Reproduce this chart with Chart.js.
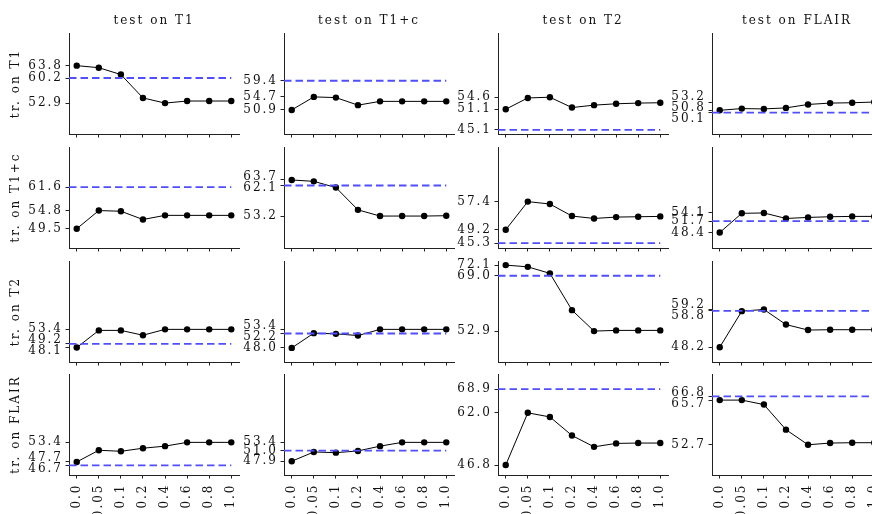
<!DOCTYPE html>
<html>
<head>
<meta charset="utf-8">
<script src="https://cdn.jsdelivr.net/npm/chart.js@4.4.1/dist/chart.umd.min.js"></script>
<style>
  html, body { margin: 0; padding: 0; background: #fff; }
  #fig { position: relative; width: 872px; height: 514px; overflow: hidden; }
  #fig canvas { position: absolute; }
</style>
</head>
<body>
<div id="fig"></div>
<script>
const xLabels = ['0.0', '0.05', '0.1', '0.2', '0.4', '0.6', '0.8', '1.0'];
const testNames = ['T1', 'T1+c', 'T2', 'FLAIR'];
const trainNames = ['T1', 'T1+c', 'T2', 'FLAIR'];

// one row per training modality, one array per test modality
const trT1 = [
    [63.8, 63.2, 61.2, 54.4, 52.9, 53.5, 53.5, 53.5],
    [50.9, 54.7, 54.5, 52.3, 53.4, 53.4, 53.4, 53.4],
    [51.1, 54.4, 54.6, 51.6, 52.3, 52.7, 52.9, 53.0],
    [50.8, 51.3, 51.2, 51.5, 52.5, 52.9, 53.0, 53.2]
];
const trT1c = [
    [49.5, 54.8, 54.6, 52.2, 53.4, 53.4, 53.4, 53.4],
    [63.7, 63.3, 61.5, 55.0, 53.2, 53.2, 53.2, 53.3],
    [49.2, 57.4, 56.7, 53.2, 52.5, 52.9, 53.0, 53.1],
    [48.4, 54.0, 54.1, 52.5, 52.8, 53.0, 53.1, 53.1]
];
const trT2 = [
    [48.1, 53.1, 53.1, 51.7, 53.4, 53.4, 53.4, 53.4],
    [48.0, 52.3, 52.1, 51.6, 53.4, 53.4, 53.4, 53.4],
    [72.1, 71.6, 69.7, 59.0, 52.9, 53.1, 53.1, 53.1],
    [48.2, 58.7, 59.2, 54.8, 53.2, 53.3, 53.3, 53.3]
];
const trFLAIR = [
    [47.7, 51.1, 50.8, 51.7, 52.3, 53.4, 53.4, 53.4],
    [47.9, 50.6, 50.4, 50.9, 52.3, 53.4, 53.4, 53.4],
    [46.8, 62.0, 60.8, 55.4, 52.1, 53.1, 53.2, 53.2],
    [65.7, 65.7, 64.4, 57.1, 52.7, 53.2, 53.3, 53.3]
];
const baselines = [
    [60.2, 59.4, 45.1, 50.1],
    [61.6, 62.1, 45.3, 51.7],
    [49.2, 52.2, 69.0, 58.8],
    [46.7, 51.0, 68.9, 66.8]
];
const series = [trT1, trT1c, trT2, trFLAIR];

const yMin = 43.9, yMax = 73.3;
const xMin = -0.35, xMax = 7.35;

// layout (px)
const colLeft = [69, 284, 498, 712];
const rowTop = [33, 147, 261, 374];
const areaW = 170, areaH = 101;
const padL = 72, padT = 36, padB = 40, padR = 12;

const textColor = '#111';
const axisColor = '#222';
const dashColor = '#4f4fff';
const font = { family: 'DejaVu Serif', size: 12, lineHeight: '14px' };

const spacing = {
    id: 'spacing',
    beforeDraw(chart) { chart.ctx.letterSpacing = '2px'; }
};

// y tick labels, pushed apart when they sit too close
const nudgeLabels = {
    id: 'nudgeLabels',
    afterDraw(chart, args, opts) {
        const scale = chart.scales.y;
        const items = opts.values.map(v => ({ v, p: scale.getPixelForValue(v) }))
            .sort((a, b) => a.p - b.p);
        const gap = 11, minGap = 8;
        let groups = items.map(it => ({ items: [it], c: it.p }));
        let merged = true;
        while (merged) {
            merged = false;
            for (let i = 0; i < groups.length - 1; i++) {
                const a = groups[i], b = groups[i + 1];
                const aEnd = a.c + (a.items.length - 1) / 2 * gap;
                const bStart = b.c - (b.items.length - 1) / 2 * gap;
                if (bStart - aEnd < minGap) {
                    const all = a.items.concat(b.items);
                    groups.splice(i, 2, { items: all, c: all.reduce((s, it) => s + it.p, 0) / all.length });
                    merged = true;
                    break;
                }
            }
        }
        const ctx = chart.ctx;
        ctx.save();
        ctx.font = font.size + 'px "' + font.family + '"';
        ctx.fillStyle = textColor;
        ctx.textAlign = 'right';
        ctx.textBaseline = 'middle';
        const x = chart.chartArea.left - 6;
        groups.forEach(g => {
            g.items.forEach((it, k) => {
                const y = g.c + (k - (g.items.length - 1) / 2) * gap;
                ctx.fillText(it.v.toFixed(1), x, y);
            });
        });
        ctx.restore();
    }
};

const fig = document.getElementById('fig');

function makePanel(r, c) {
    const canvas = document.createElement('canvas');
    canvas.width = padL + areaW + padR;
    canvas.height = padT + areaH + padB;
    canvas.style.left = (colLeft[c] - padL) + 'px';
    canvas.style.top = (rowTop[r] - padT) + 'px';
    fig.appendChild(canvas);

    const values = series[r][c];
    const base = baselines[r][c];
    const yTicks = [Math.max(...values), Math.min(...values), base];

    new Chart(canvas, {
        type: 'line',
        data: {
            datasets: [
                {
                    data: [{ x: xMin, y: base }, { x: xLabels.length - 1, y: base }],
                    borderColor: dashColor,
                    borderWidth: 1.8,
                    borderDash: [7.5, 4],
                    pointRadius: 0
                },
                {
                    data: values.map((v, i) => ({ x: i, y: v })),
                    borderColor: '#000',
                    borderWidth: 1,
                    pointRadius: 3.2,
                    pointBorderWidth: 0,
                    pointBackgroundColor: '#000'
                }
            ]
        },
        options: {
            responsive: false,
            animation: false,
            events: [],
            layout: { padding: { top: r === 0 ? 0 : padT, right: padR, bottom: 0, left: 0 } },
            plugins: {
                legend: { display: false },
                tooltip: { enabled: false },
                title: {
                    display: r === 0,
                    fullSize: false,
                    text: 'test on ' + testNames[c],
                    font: { ...font, weight: 'normal' },
                    color: textColor,
                    padding: { top: 16.5, bottom: 5.5 }
                },
                nudgeLabels: { values: yTicks }
            },
            scales: {
                x: {
                    type: 'linear',
                    min: xMin,
                    max: xMax,
                    afterBuildTicks: s => { s.ticks = xLabels.map((_, i) => ({ value: i })); },
                    afterFit: s => { s.height = padB; },
                    grid: { display: true, drawOnChartArea: false, drawTicks: true, tickLength: 3.5, tickColor: axisColor, tickWidth: 1 },
                    border: { display: true, color: axisColor, width: 1 },
                    ticks: {
                        display: r === 3,
                        autoSkip: false,
                        minRotation: 90,
                        maxRotation: 90,
                        padding: 5,
                        font: font,
                        color: textColor,
                        callback: v => xLabels[v]
                    }
                },
                y: {
                    min: yMin,
                    max: yMax,
                    afterBuildTicks: s => { s.ticks = yTicks.map(v => ({ value: v })); },
                    afterFit: s => { s.width = padL; },
                    grid: { display: true, drawOnChartArea: false, drawTicks: true, tickLength: 3.5, tickColor: axisColor, tickWidth: 1 },
                    border: { display: true, color: axisColor, width: 1 },
                    ticks: { display: false },
                    title: {
                        display: c === 0,
                        text: 'tr. on ' + trainNames[r],
                        font: font,
                        color: textColor,
                        padding: { top: 12, bottom: 0 }
                    }
                }
            }
        },
        plugins: [spacing, nudgeLabels]
    });
}

for (let r = 0; r < 4; r++) {
    for (let c = 0; c < 4; c++) makePanel(r, c);
}
</script>
</body>
</html>
